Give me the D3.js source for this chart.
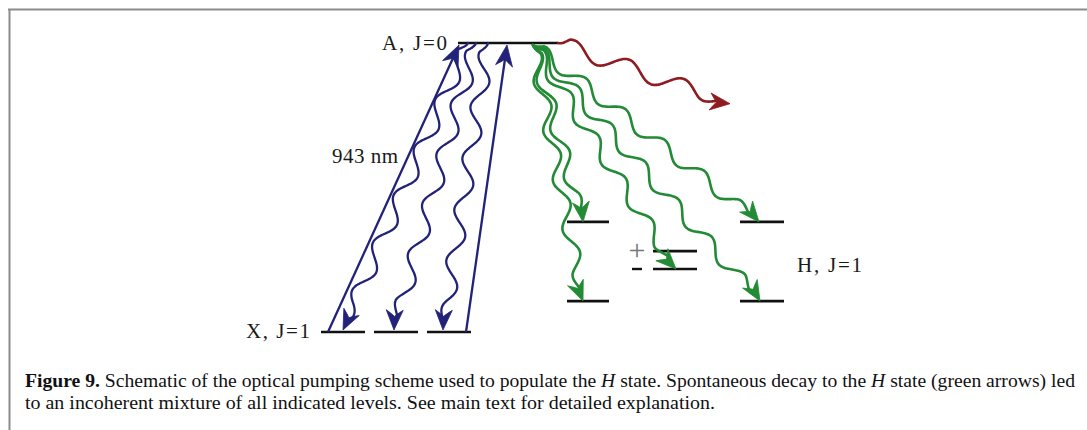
<!DOCTYPE html>
<html><head><meta charset="utf-8">
<script src="https://cdn.jsdelivr.net/npm/d3@7"></script>
<style>body{margin:0;background:#fff}svg{display:block}</style>
</head><body>
<script>
// ---- data (diagram units: x = horizontal column position, e = relative energy 0..1) ----
const levelNames   = ["A","X1","X2","X3","Hl_hi","Hl_lo","Hm_hi","Hm_lo","Hr_hi","Hr_lo"];
const levelX       = [508, 343, 396, 449, 588, 588, 675, 675, 762, 762];
const levelEnergy  = [1.0, 0.0, 0.0, 0.0, 0.381, 0.107, 0.280, 0.218, 0.381, 0.107];
const levelHalfW   = [50, 22, 22, 22, 21, 21, 22, 22, 22, 22];

// pump (straight) transitions X -> A : start x, end x
const pumpFromX = [328, 466];
const pumpToX   = [459, 507];

// spontaneous decay A -> X (blue wavy)
const blueFromX = [468, 476, 488];
const blueToX   = [343, 394, 443];

// spontaneous decay A -> H (green wavy)
const greenFromX = [533, 533, 533, 533, 533];
const greenToX   = [583, 583, 676, 759, 760];
const greenToE   = [0.381, 0.107, 0.218, 0.381, 0.107];

// other decay (red wavy)
const redFrom = [558, 1.0];
const redTo   = [730, 0.79];

const labels = ["A, J=0", "X, J=1", "H, J=1", "943 nm"];

// ---- layout ----
const W = 1087, H = 430;
const x = d3.scaleLinear().domain([0, W]).range([0, W]);
const y = d3.scaleLinear().domain([0, 1]).range([332, 43]);

const svg = d3.select("body").append("svg").attr("width", W).attr("height", H);

// frame
svg.append("line").attr("x1", 8).attr("x2", W).attr("y1", 9.5).attr("y2", 9.5)
  .attr("stroke", "#8c8c8c").attr("stroke-width", 2);
svg.append("line").attr("x1", 9.5).attr("x2", 9.5).attr("y1", 9).attr("y2", H)
  .attr("stroke", "#8c8c8c").attr("stroke-width", 2);

const BLUE = "#222278", GREEN = "#238a36", RED = "#8e1b1f";

function arrowHead(g, tx, ty, dx, dy, color, len, hw) {
  const L = Math.hypot(dx, dy), ux = dx / L, uy = dy / L, nx = -uy, ny = ux;
  const bx = tx - ux * len, by = ty - uy * len;
  const mx = tx - ux * len * 0.68, my = ty - uy * len * 0.68;
  const p = d3.path();
  p.moveTo(tx, ty);
  p.lineTo(bx + nx * hw, by + ny * hw);
  p.quadraticCurveTo(tx - ux * len * 0.8 + nx * hw * 0.3, ty - uy * len * 0.8 + ny * hw * 0.3, mx, my);
  p.quadraticCurveTo(tx - ux * len * 0.8 - nx * hw * 0.3, ty - uy * len * 0.8 - ny * hw * 0.3, bx - nx * hw, by - ny * hw);
  p.closePath();
  g.append("path").attr("d", p.toString()).attr("fill", color).attr("stroke", color)
    .attr("stroke-width", 0.8).attr("stroke-linejoin", "round");
}

function wavy(g, x0, y0, x1, y1, amp, wl, color, sw, phase) {
  const dx = x1 - x0, dy = y1 - y0, L = Math.hypot(dx, dy);
  const ux = dx / L, uy = dy / L, nx = -uy, ny = ux;
  const head = 20, Lend = L - head * 0.6;
  const pts = [];
  const ramp = 10, tail = wl * 0.35;
  for (let s = 0; s <= Lend; s += 1) {
    let env = Math.min(1, s / ramp);
    if (s > Lend - tail) env *= Math.max(0, (Lend - s) / tail) * 0.6 + 0.4;
    const off = amp * env * Math.sin(2 * Math.PI * s / wl + (phase || 0));
    pts.push([x0 + ux * s + nx * off, y0 + uy * s + ny * off]);
  }
  pts.push([x1 - ux * head * 0.6, y1 - uy * head * 0.6]);
  g.append("path").attr("d", d3.line().curve(d3.curveBasis)(pts))
    .attr("fill", "none").attr("stroke", color).attr("stroke-width", sw)
    .attr("stroke-linecap", "round");
  const ref = pts[Math.max(0, pts.length - 16)];
  arrowHead(g, x1, y1, x1 - ref[0], y1 - ref[1], color, head, 8.5);
}

// levels
svg.append("g").selectAll("line").data(levelNames).join("line")
  .attr("x1", (d, i) => x(levelX[i] - levelHalfW[i]))
  .attr("x2", (d, i) => x(levelX[i] + levelHalfW[i]))
  .attr("y1", (d, i) => y(levelEnergy[i]))
  .attr("y2", (d, i) => y(levelEnergy[i]))
  .attr("stroke", "#111").attr("stroke-width", 2.6);

// pump arrows (straight)
const gp = svg.append("g");
pumpFromX.forEach((fx, i) => {
  const x0 = x(fx), y0 = y(0), x1 = x(pumpToX[i]), y1 = y(0.993);
  gp.append("line").attr("x1", x0).attr("y1", y0).attr("x2", x1 - (x1 - x0) * 0.04).attr("y2", y1 + (y0 - y1) * 0.04)
    .attr("stroke", BLUE).attr("stroke-width", 2.3);
  arrowHead(gp, x1, y1, x1 - x0, y1 - y0, BLUE, 21, 8.5);
});

// blue wavy decays
const gb = svg.append("g");
blueFromX.forEach((fx, i) => wavy(gb, x(fx), y(1), x(blueToX[i]), y(0.007), 7.5, 52, BLUE, 2.3, 0));

// green wavy decays
const gg = svg.append("g");
greenFromX.forEach((fx, i) => wavy(gg, x(fx), y(0.993), x(greenToX[i]), y(greenToE[i]), 6.5, 50, GREEN, 2.6, Math.PI));

// red wavy
wavy(svg.append("g"), x(redFrom[0]), y(redFrom[1]), x(redTo[0]), y(redTo[1]), 8, 58, RED, 2.6, Math.PI);

// labels
const lab = svg.append("g").attr("font-family", "'Liberation Serif', 'Times New Roman', serif").attr("font-size", 21).attr("fill", "#1a1a1a");
lab.append("text").attr("x", 382).attr("y", 50).attr("textLength", 65).attr("lengthAdjust", "spacing").text(labels[0]);
lab.append("text").attr("x", 246).attr("y", 338).attr("textLength", 64).attr("lengthAdjust", "spacing").text(labels[1]);
lab.append("text").attr("x", 797).attr("y", 272).attr("textLength", 65).attr("lengthAdjust", "spacing").text(labels[2]);
lab.append("text").attr("x", 332).attr("y", 163).attr("textLength", 66).attr("lengthAdjust", "spacing").text(labels[3]);
// parity signs
svg.append("text").attr("x", 637).attr("y", 260).attr("text-anchor", "middle")
  .attr("font-family", "'Liberation Serif', serif").attr("font-size", 30).attr("fill", "#777").text("+");
svg.append("line").attr("x1", 632).attr("x2", 642).attr("y1", 269).attr("y2", 269)
  .attr("stroke", "#111").attr("stroke-width", 2.4);

// caption
const cap = svg.append("g").attr("font-family", "'Liberation Serif', 'Times New Roman', serif").attr("font-size", 18).attr("fill", "#111");
const t1 = cap.append("text").attr("x", 25).attr("y", 387).attr("textLength", 1050).attr("lengthAdjust", "spacingAndGlyphs");
t1.append("tspan").attr("font-weight", "bold").text("Figure 9.");
t1.append("tspan").text(" Schematic of the optical pumping scheme used to populate the ");
t1.append("tspan").attr("font-style", "italic").text("H");
t1.append("tspan").text(" state. Spontaneous decay to the ");
t1.append("tspan").attr("font-style", "italic").text("H");
t1.append("tspan").text(" state (green arrows) led");
cap.append("text").attr("x", 25).attr("y", 409).attr("textLength", 690).attr("lengthAdjust", "spacingAndGlyphs")
  .text("to an incoherent mixture of all indicated levels. See main text for detailed explanation.");
</script>
</body></html>
